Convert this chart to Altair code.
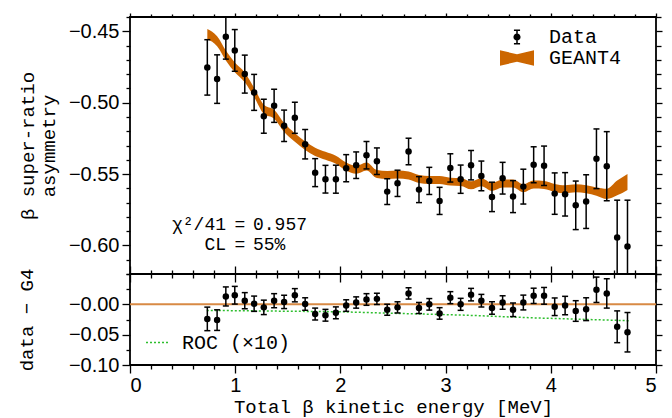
import altair as alt
import pandas as pd

# ---------------- data ----------------
energy = [0.735, 0.828, 0.911, 0.996, 1.091, 1.180, 1.272, 1.370, 1.465, 1.567,
          1.665, 1.760, 1.858, 1.957, 2.055, 2.150, 2.248, 2.347, 2.445, 2.543,
          2.648, 2.747, 2.845, 2.943, 3.045, 3.143, 3.242, 3.340, 3.441, 3.542,
          3.641, 3.739, 3.837, 3.936, 4.037, 4.136, 4.237, 4.336, 4.434, 4.532,
          4.631, 4.729]
asym = [-0.4753, -0.4835, -0.4538, -0.4634, -0.4800, -0.4928, -0.5095, -0.5022, -0.5162, -0.5106,
        -0.5291, -0.5490, -0.5536, -0.5536, -0.5459, -0.5438, -0.5368, -0.5410, -0.5623, -0.5565,
        -0.5342, -0.5609, -0.5548, -0.5688, -0.5457, -0.5536, -0.5438, -0.5513, -0.5660, -0.5529,
        -0.5658, -0.5588, -0.5435, -0.5442, -0.5637, -0.5642, -0.5719, -0.5693, -0.5393, -0.5445,
        -0.5945, -0.6008]
asym_err = [0.0194, 0.0170, 0.0157, 0.0146, 0.0133, 0.0126, 0.0119, 0.0116, 0.0110, 0.0109,
            0.0103, 0.0098, 0.0097, 0.0098, 0.0095, 0.0093, 0.0096, 0.0093, 0.0090, 0.0092,
            0.0093, 0.0091, 0.0095, 0.0095, 0.0099, 0.0099, 0.0103, 0.0104, 0.0103, 0.0111,
            0.0112, 0.0122, 0.0126, 0.0138, 0.0145, 0.0152, 0.0170, 0.0188, 0.0209, 0.0242,
            0.0262, 0.0325]
g4 = [-0.4520, -0.4570, -0.4670, -0.4753, -0.4823, -0.4928, -0.5046, -0.5081, -0.5174, -0.5244,
      -0.5302, -0.5344, -0.5372, -0.5400, -0.5447, -0.5470, -0.5447, -0.5500, -0.5506, -0.5503,
      -0.5510, -0.5534, -0.5541, -0.5541, -0.5553, -0.5555, -0.5579, -0.5557, -0.5590, -0.5567,
      -0.5567, -0.5600, -0.5574, -0.5576, -0.5597, -0.5607, -0.5600, -0.5607, -0.5623, -0.5639,
      -0.5597, -0.5555]
g4_err = [0.0036, 0.0035, 0.0035, 0.0034, 0.0034, 0.0032, 0.0032, 0.0031, 0.0031, 0.0030,
          0.0030, 0.0029, 0.0028, 0.0028, 0.0028, 0.0028, 0.0028, 0.0028, 0.0028, 0.0028,
          0.0028, 0.0028, 0.0028, 0.0028, 0.0028, 0.0028, 0.0028, 0.0028, 0.0028, 0.0028,
          0.0028, 0.0028, 0.0028, 0.0028, 0.0028, 0.0028, 0.0028, 0.0028, 0.0029, 0.0036,
          0.0052, 0.0056]
resid = [-0.024, -0.026, 0.013, 0.015, 0.006, 0.001, -0.005, 0.006, 0.004, 0.015,
         0.0005, -0.016, -0.018, -0.014, -0.002, 0.003, 0.008, 0.009, -0.009, -0.005,
         0.018, -0.006, 0.000, -0.015, 0.011, 0.000, 0.016, 0.006, -0.006, 0.003,
         -0.009, 0.003, 0.014, 0.014, -0.004, -0.002, -0.011, -0.008, 0.024, 0.018,
         -0.037, -0.046]
roc_energy = [0.73, 1.98, 2.55, 3.18, 3.82, 4.74]
roc_value = [-0.0100, -0.0122, -0.0150, -0.0178, -0.0222, -0.0270]
zero_level = [0.0]

series_names = ["Data", "GEANT4"]
roc_name = ["ROC (×10)"]
annot_left = ["χ²/41", "CL"]
annot_eq = ["=", "="]
annot_right = ["0.957", "55%"]
annot_row = [0, 1]

x_major = [0, 1, 2, 3, 4, 5]
x_minor = [0.2, 0.4, 0.6, 0.8, 1.2, 1.4, 1.6, 1.8, 2.2, 2.4, 2.6, 2.8,
           3.2, 3.4, 3.6, 3.8, 4.2, 4.4, 4.6, 4.8]
y_major = [-0.60, -0.55, -0.50, -0.45]
y_minor = [-0.62, -0.61, -0.59, -0.58, -0.57, -0.56, -0.54, -0.53, -0.52, -0.51,
           -0.49, -0.48, -0.47, -0.46, -0.44]
r_major = [0.0, -0.05, -0.10]
r_minor = [0.05, 0.025, -0.025, -0.075]

# ---------------- tables ----------------
df = pd.DataFrame({"E": energy, "A": asym, "err": asym_err, "G": g4, "gerr": g4_err, "R": resid})
df["lo"] = df["A"] - df["err"]
df["hi"] = df["A"] + df["err"]
df["glo"] = df["G"] - df["gerr"]
df["ghi"] = df["G"] + df["gerr"]
df["rlo"] = df["R"] - df["err"]
df["rhi"] = df["R"] + df["err"]
roc_df = pd.DataFrame({"E": roc_energy, "V": roc_value, "lab": roc_name * len(roc_energy)})
zero_df = pd.DataFrame({"Z": zero_level})
annot_df = pd.DataFrame({"l": annot_left, "m": annot_eq, "r": annot_right, "row": annot_row})

# ---------------- style ----------------
ORANGE = "#CC6600"
ZERO = "#D88A45"
GREEN = "#2DBE2D"
SANS = "Liberation Sans"
MONO = "Liberation Mono"
TICK_FS = 20
TITLE_FS = 19
W, H1, H2 = 526, 257, 91

xs = alt.Scale(domain=[0, 5], nice=False, zero=False)
ys_top = alt.Scale(domain=[-0.62, -0.44], nice=False, zero=False)
ys_bot = alt.Scale(domain=[-0.10, 0.05], nice=False, zero=False)
row_scale = alt.Scale(domain=[0, 1], range=[213, 233])

YLABEL = "'\u2212' + format(abs(datum.value), '.2f')"


def ax(orient, values, size, labels=False, title=None, label_expr=None,
       label_pad=None, title_pad=None, title_line=None):
    kw = dict(orient=orient, values=values, domain=False, grid=False, ticks=True,
              tickColor="black", tickWidth=1.3, labels=labels)
    kw["tickSize"] = {"expr": str(size)} if size < 0 else size
    if labels:
        kw.update(labelFont=SANS, labelFontSize=TICK_FS, labelColor="black")
        if label_expr is not None:
            kw["labelExpr"] = label_expr
        if label_pad is not None:
            kw["labelPadding"] = label_pad
    if title is not None:
        kw.update(title=title, titleFont=MONO, titleFontSize=TITLE_FS,
                  titleFontWeight="normal", titleColor="black")
        if title_pad is not None:
            kw["titlePadding"] = title_pad
        if title_line is not None:
            kw["titleLineHeight"] = title_line
    else:
        kw["title"] = None
    return alt.Axis(**kw)


def X(axis):
    return alt.X("E:Q", scale=xs, axis=axis)


# ---------------- top panel ----------------
band = alt.Chart(df).mark_area(color=ORANGE, opacity=1, interpolate="monotone", clip=True).encode(
    x=X(ax("bottom", x_major, -8)),
    y=alt.Y("glo:Q", scale=ys_top,
            axis=ax("left", y_major, 8, labels=True, label_expr=YLABEL, label_pad=3,
                    title=["β super-ratio", "asymmetry"], title_pad=10, title_line=21)),
    y2="ghi:Q",
)
bars = alt.Chart(df).mark_rule(color="black", strokeWidth=1.5, clip=True).encode(
    x=X(ax("bottom", x_minor, -4)),
    y=alt.Y("lo:Q", scale=ys_top, axis=ax("left", y_minor, 4)),
    y2="hi:Q",
)
caps_lo = alt.Chart(df).mark_tick(orient="horizontal", size=6, thickness=1.5, color="black",
                                  opacity=1, clip=True).encode(
    x=X(ax("top", x_major, 4)),
    y=alt.Y("lo:Q", scale=ys_top, axis=ax("right", y_major, 6)),
)
caps_hi = alt.Chart(df).mark_tick(orient="horizontal", size=6, thickness=1.5, color="black",
                                  opacity=1, clip=True).encode(
    x=X(ax("top", x_minor, 3)),
    y=alt.Y("hi:Q", scale=ys_top, axis=ax("right", y_minor, 5)),
)
pts = alt.Chart(df).mark_circle(size=42, color="black", opacity=1, clip=True).encode(
    x=X(None),
    y=alt.Y("A:Q", scale=ys_top, axis=None),
)

errbar_path = ("M-0.09,-0.88H0.09V0.88H-0.09Z M-0.36,-0.88H0.36V-0.72H-0.36Z "
               "M-0.36,0.72H0.36V0.88H-0.36Z M0.42,0A0.42,0.42 0 1,1 -0.42,0A0.42,0.42 0 1,1 0.42,0Z")
bowtie_path = "M-2,-0.9L0,-0.45L2,-0.9L2,0.9L0,0.45L-2,0.9Z"

series_legend = alt.Legend(orient="none", legendX=377, legendY=10, title=None,
                           labelFont=MONO, labelFontSize=20, labelColor="black",
                           symbolSize=289, symbolStrokeWidth=0, symbolOpacity=1,
                           labelOffset=22, rowPadding=1, padding=0)
legend_layer = alt.Chart(df).transform_calculate(s="'Data'").transform_filter("false").mark_point(
    filled=True, opacity=1).encode(
    x=X(None),
    y=alt.Y("A:Q", scale=ys_top, axis=None),
    color=alt.Color("s:N", scale=alt.Scale(domain=series_names, range=["black", ORANGE]),
                    legend=series_legend),
    shape=alt.Shape("s:N", scale=alt.Scale(domain=series_names, range=[errbar_path, bowtie_path]),
                    legend=series_legend),
)

txt_l = alt.Chart(annot_df).mark_text(font=MONO, fontSize=18, align="right", baseline="alphabetic",
                                      color="black").encode(
    text="l:N", x=alt.value(96), y=alt.Y("row:Q", scale=row_scale, axis=None))
txt_m = alt.Chart(annot_df).mark_text(font=MONO, fontSize=18, align="center", baseline="alphabetic",
                                      color="black").encode(
    text="m:N", x=alt.value(110), y=alt.Y("row:Q", scale=row_scale, axis=None))
txt_r = alt.Chart(annot_df).mark_text(font=MONO, fontSize=18, align="left", baseline="alphabetic",
                                      color="black").encode(
    text="r:N", x=alt.value(123), y=alt.Y("row:Q", scale=row_scale, axis=None))

top = alt.layer(band, bars, caps_lo, caps_hi, pts, legend_layer).resolve_axis(
    x="independent", y="independent").properties(width=W, height=H1)
top = alt.layer(top, txt_l, txt_m, txt_r).resolve_scale(y="independent").resolve_axis(y="independent")

# ---------------- bottom panel ----------------
zero_rule = alt.Chart(zero_df).mark_rule(color=ZERO, strokeWidth=2).encode(
    y=alt.Y("Z:Q", scale=ys_bot,
            axis=ax("left", r_major, 8, labels=True, label_expr=YLABEL, label_pad=3,
                    title="data − G4", title_pad=32)),
)
roc = alt.Chart(roc_df).mark_line(strokeDash=[2, 2], strokeWidth=1.5).encode(
    x=X(ax("bottom", x_major, 8, labels=True, label_pad=2, title="Total β kinetic energy [MeV]",
           title_pad=2)),
    y=alt.Y("V:Q", scale=ys_bot, axis=ax("left", r_minor, 4)),
    stroke=alt.Stroke("lab:N", scale=alt.Scale(domain=roc_name, range=[GREEN]),
                      legend=alt.Legend(orient="none", legendX=15, legendY=313, title=None,
                                        labelFont=MONO, labelFontSize=20, labelColor="black",
                                        symbolType="stroke", symbolSize=529, symbolDash=[2, 2],
                                        symbolStrokeWidth=1.5, labelOffset=12, padding=0)),
)
rbars = alt.Chart(df).mark_rule(color="black", strokeWidth=1.5, clip=True).encode(
    x=X(ax("bottom", x_minor, 4)),
    y=alt.Y("rlo:Q", scale=ys_bot, axis=ax("right", r_major, 6)),
    y2="rhi:Q",
)
rcaps_lo = alt.Chart(df).mark_tick(orient="horizontal", size=6, thickness=1.5, color="black",
                                   opacity=1, clip=True).encode(
    x=X(ax("top", x_major, -8)),
    y=alt.Y("rlo:Q", scale=ys_bot, axis=ax("right", r_minor, 5)),
)
rcaps_hi = alt.Chart(df).mark_tick(orient="horizontal", size=6, thickness=1.5, color="black",
                                   opacity=1, clip=True).encode(
    x=X(ax("top", x_minor, -4)),
    y=alt.Y("rhi:Q", scale=ys_bot, axis=None),
)
rpts = alt.Chart(df).mark_circle(size=42, color="black", opacity=1, clip=True).encode(
    x=X(None),
    y=alt.Y("R:Q", scale=ys_bot, axis=None),
)

bottom = alt.layer(zero_rule, roc, rbars, rcaps_lo, rcaps_hi, rpts).resolve_axis(
    x="independent", y="independent").properties(width=W, height=H2)

chart = alt.vconcat(top, bottom, spacing=0, bounds="flush").configure_view(
    stroke="black", strokeWidth=1.8).properties(
    padding={"left": 8, "top": 3, "right": 0, "bottom": 0})

chart.save("out.html", embed_options={"renderer": "svg", "actions": False})
